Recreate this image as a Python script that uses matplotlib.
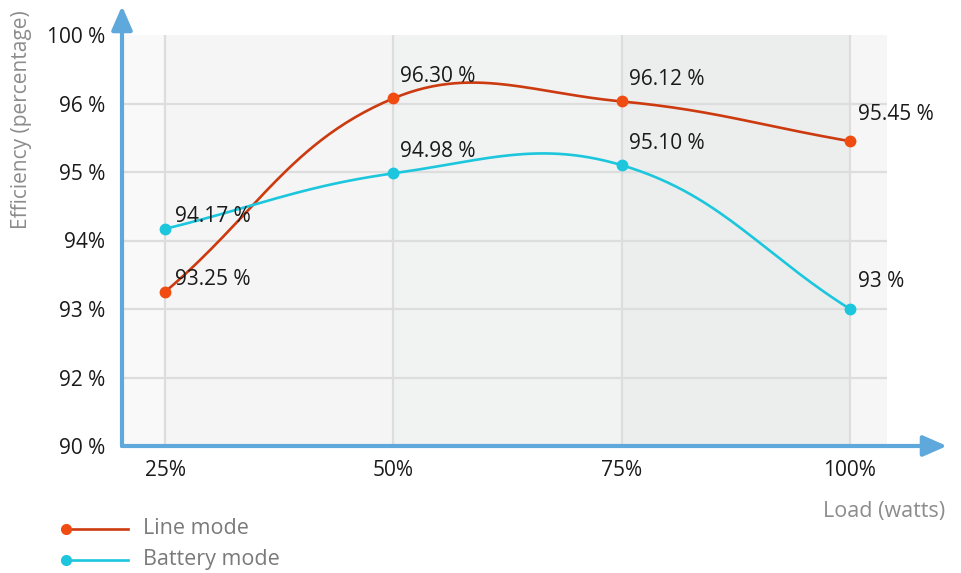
import numpy as np
import matplotlib.pyplot as plt
from matplotlib.lines import Line2D

plt.rcParams['font.family'] = ['Open Sans', 'DejaVu Sans']

# Données
loads = ['25%', '50%', '75%', '100%']
line_mode = [93.25, 96.30, 96.12, 95.45]
battery_mode = [94.17, 94.98, 95.10, 93.00]
line_labels = ['93.25 %', '96.30 %', '96.12 %', '95.45 %']
battery_labels = ['94.17 %', '94.98 %', '95.10 %', '93 %']
y_ticks = [90, 92, 93, 94, 95, 96, 100]
y_tick_labels = ['90 %', '92 %', '93 %', '94%', '95 %', '96 %', '100 %']

red = '#cc3a10'
red_dot = '#f04c12'
cyan = '#1cc6dd'
axis_blue = '#5fa8dc'
grid_c = '#dddddd'

# x unit = 228 px, y unit = 68.5 px
SX, SY = 228.0, 68.5


def ypos(v):
    # axe y non linéaire : graduations régulièrement espacées
    return np.interp(v, y_ticks, np.arange(len(y_ticks)))


def smooth(xs, ys, t=0.4, n=60):
    # courbe de Bézier façon Chart.js, calculée en pixels
    P = np.column_stack([np.asarray(xs, float) * SX, np.asarray(ys, float) * SY])
    m = len(P)
    c_prev, c_next = [], []
    for i in range(m):
        prev = P[max(i - 1, 0)]
        nxt = P[min(i + 1, m - 1)]
        d01 = np.linalg.norm(P[i] - prev)
        d12 = np.linalg.norm(nxt - P[i])
        s = d01 + d12
        fa = t * d01 / s
        fb = t * d12 / s
        c_prev.append(P[i] - fa * (nxt - prev))
        c_next.append(P[i] + fb * (nxt - prev))
    u = np.linspace(0, 1, n)[:, None]
    pts = []
    for i in range(m - 1):
        b = ((1 - u) ** 3 * P[i] + 3 * (1 - u) ** 2 * u * c_next[i]
             + 3 * (1 - u) * u ** 2 * c_prev[i + 1] + u ** 3 * P[i + 1])
        pts.append(b)
    pts = np.vstack(pts)
    return pts[:, 0] / SX, pts[:, 1] / SY


fig = plt.figure(figsize=(9.62, 5.73), dpi=100)
ax = fig.add_axes([122 / 962, (573 - 446) / 573, 765 / 962, 411 / 573])
ax.set_xlim(-43 / SX, 3 + 37 / SX)
ax.set_ylim(0, 6)

# bandes de fond
bands = [(-43 / SX, 0, '#f9f9f9'), (0, 1, '#f5f5f5'), (1, 2, '#f1f2f2'),
         (2, 3, '#eceeed'), (3, 3 + 37 / SX, '#f6f6f6')]
for a, b, c in bands:
    ax.axvspan(a, b, color=c, lw=0, zorder=0)

x = np.arange(len(loads))
for xi in x:
    ax.axvline(xi, color=grid_c, lw=1.6, zorder=1)
for yi in range(1, len(y_ticks) - 1):
    ax.axhline(yi, color=grid_c, lw=1.6, zorder=1)

for vals, labels, lc, mc in [(line_mode, line_labels, red, red_dot),
                             (battery_mode, battery_labels, cyan, cyan)]:
    yp = ypos(vals)
    sx, sy = smooth(x, yp)
    ax.plot(sx, sy, color=lc, lw=1.9, zorder=3, solid_capstyle='round')
    ax.plot(x, yp, 'o', color=mc, ms=7.5, zorder=4)
    offs = [(7, 1), (5, 8), (5, 8), (6, 12)]
    for xi, yi, lab, o in zip(x, yp, labels, offs):
        ax.annotate(lab, (xi, yi), xytext=o, textcoords='offset points',
                    ha='left', va='bottom', fontsize=15, color='#1a1a1a', zorder=5)

ax.set_xticks(x, loads)
ax.set_yticks(np.arange(len(y_ticks)), y_tick_labels)
ax.tick_params(length=0, labelsize=15, labelcolor='#1a1a1a')
ax.tick_params(axis='x', pad=10)
ax.tick_params(axis='y', pad=12)
for s in ax.spines.values():
    s.set_visible(False)

# axes fléchés
arrow = dict(arrowstyle='-|>,head_length=0.8,head_width=0.35', lw=3,
             color=axis_blue, shrinkA=0, shrinkB=0, mutation_scale=18)
ax.annotate('', xy=(0, (446 - 6) / 411), xytext=(0, 0), xycoords='axes fraction',
            arrowprops=arrow, annotation_clip=False)
ax.annotate('', xy=((947 - 122) / 765, 0), xytext=(0, 0), xycoords='axes fraction',
            arrowprops=arrow, annotation_clip=False)

fig.text(22 / 962, 1 - 120 / 573, 'Efficiency (percentage)', rotation=90,
         ha='center', va='center', fontsize=15, color='#8c8c8c')
fig.text(945 / 962, 1 - 511 / 573, 'Load (watts)', ha='right', va='center',
         fontsize=15.5, color='#8c8c8c')

# légende
for yy, c, mc, lab in [(529, red, red_dot, 'Line mode'), (560, cyan, cyan, 'Battery mode')]:
    fy = 1 - yy / 573
    fig.add_artist(Line2D([62 / 962, 128 / 962], [fy, fy], color=c, lw=1.9,
                          transform=fig.transFigure))
    fig.add_artist(Line2D([66 / 962], [fy], marker='o', ms=7, color=mc,
                          transform=fig.transFigure))
    fig.text(143 / 962, fy, lab, ha='left', va='center', fontsize=15.5, color='#7a7a7a')

fig.savefig('out.png', dpi=100)
